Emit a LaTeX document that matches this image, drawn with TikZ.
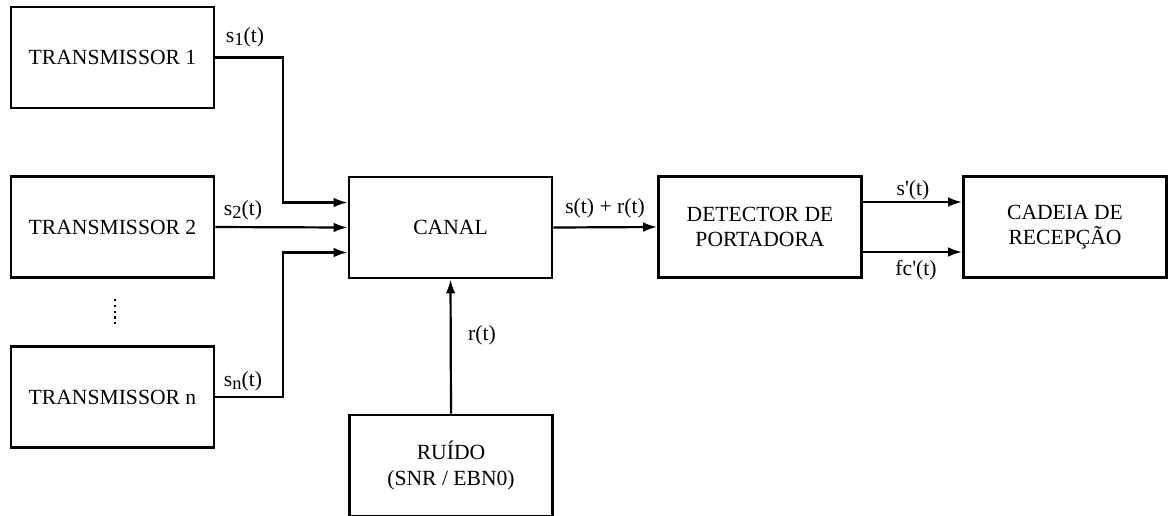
\documentclass[tikz,border=0pt]{standalone}
\usepackage{fontspec}
\setmainfont{Liberation Serif}
\usetikzlibrary{arrows.meta}
\newcommand{\lsub}[1]{\raisebox{-0.35ex}{\fontsize{10.5}{11}\selectfont #1}}
\begin{document}
\begin{tikzpicture}[x=0.02cm, y=-0.02cm, every node/.style={font=\fontsize{12.3}{14.5}\selectfont},
  box/.style={draw,line width=1.6pt,minimum width=4.06cm,minimum height=2.02cm,align=center,inner sep=2pt},
  sig/.style={-{Latex[length=8pt,width=5.5pt]},line width=1.25pt}]
\useasboundingbox (0,0) rectangle (1168,515);
\node[box] (tx1) at (112.5,57.5) {TRANSMISSOR 1};
\node[box] (tx2) at (112.5,227) {TRANSMISSOR 2};
\node[box] (txn) at (112.5,397) {TRANSMISSOR n};
\node[box] (canal) at (450.5,227.5) {CANAL};
\node[box] (det) at (760,227) {DETECTOR DE\\PORTADORA};
\node[box] (cad) at (1065,227) {CADEIA DE\\RECEPÇÃO};
\node[box] (ruido) at (451,465.5) {RUÍDO\\(SNR / EBN0)};
\draw[dotted,line width=1.3pt] (115,299) -- (115,324);
\draw[sig] (tx1.east) -- ++(68,0) |- ([yshift=0.5cm]canal.west);
\draw[sig] (tx2.east) -- (canal.west);
\draw[sig] (txn.east) -- ++(68,0) |- ([yshift=-0.5cm]canal.west);
\draw[sig] (canal.east) -- (det.west);
\draw[sig] ([yshift=0.5cm]det.east) -- ([yshift=0.5cm]cad.west);
\draw[sig] ([yshift=-0.5cm]det.east) -- ([yshift=-0.5cm]cad.west);
\draw[sig] (ruido.north) -- (canal.south);
\node (ls1) at (245,37) {s\lsub{1}(t)};
\node (ls2) at (243,210) {s\lsub{2}(t)};
\node (lsn) at (243,381) {s\lsub{n}(t)};
\node (lsr) at (605,208) {s(t) + r(t)};
\node (lsp) at (913,190) {s\textquotesingle(t)};
\node (lfc) at (916,270) {fc\textquotesingle(t)};
\node (lr) at (482,335) {r(t)};
\end{tikzpicture}
\end{document}
